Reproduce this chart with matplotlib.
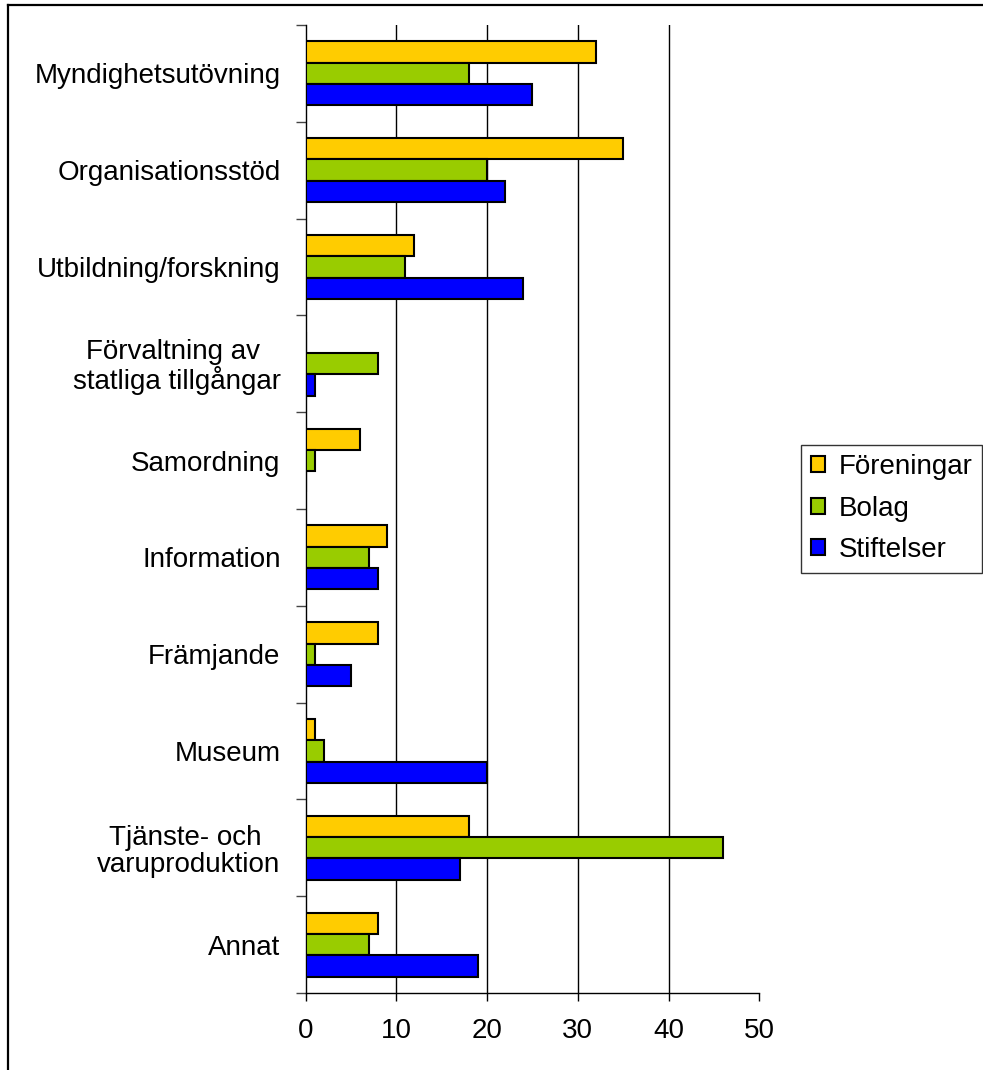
import numpy as np
import matplotlib
matplotlib.use("Agg")
import matplotlib.pyplot as plt
from matplotlib.lines import Line2D

plt.rcParams['font.family'] = ['Liberation Sans', 'DejaVu Sans']

# Categories (top to bottom) and values per series
categories = [
    "Myndighetsutövning",
    "Organisationsstöd",
    "Utbildning/forskning",
    "Förvaltning av \nstatliga tillgångar",
    "Samordning",
    "Information",
    "Främjande",
    "Museum",
    "Tjänste- och \nvaruproduktion",
    "Annat",
]
series_names = ["Föreningar", "Bolag", "Stiftelser"]
foreningar = [32, 35, 12, 0, 6, 9, 8, 1, 18, 8]
bolag = [18, 20, 11, 8, 1, 7, 1, 2, 46, 7]
stiftelser = [25, 22, 24, 1, 0, 8, 5, 20, 17, 19]
x_ticks = [0, 10, 20, 30, 40, 50]

colors = ["#FFCC00", "#99CC00", "#0000FF"]
fs = 20

fig = plt.figure(figsize=(9.83, 10.70), dpi=100)
ax = fig.add_axes([0.3108, 0.0720, 0.4616, 0.9047])

y = np.arange(len(categories))
h = 0.22
for i, (vals, name, col) in enumerate(zip([foreningar, bolag, stiftelser], series_names, colors)):
    ax.barh(y + (i - 1) * h, vals, height=h, color=col, edgecolor="black",
            linewidth=1.5, label=name, zorder=3)

ax.set_xlim(0, 50)
ax.set_ylim(len(categories) - 0.5, -0.5)

ax.set_xticks(x_ticks)
ax.set_xticklabels([str(t) for t in x_ticks], fontsize=fs)
ax.tick_params(axis="x", direction="out", length=6, width=1, pad=12)

# category boundary ticks and centered labels
ax.set_yticks(np.arange(-0.5, len(categories), 1.0))
ax.set_yticklabels([])
ax.set_yticks(y, minor=True)
ax.set_yticklabels(categories, minor=True, fontsize=fs, multialignment="center",
                   linespacing=1.05)
ax.tick_params(axis="y", which="major", direction="out", length=7, width=1, color="#444444")
ax.tick_params(axis="y", which="minor", length=0, pad=18)

for gx in x_ticks[1:-1]:
    ax.axvline(gx, color="black", linewidth=1, zorder=1)

for s in ["top", "right"]:
    ax.spines[s].set_visible(False)
for s in ["left", "bottom"]:
    ax.spines[s].set_linewidth(1)

leg = ax.legend(loc="center left", bbox_to_anchor=(801 / 983, 1 - 508.5 / 1070),
                bbox_transform=fig.transFigure, fontsize=fs, frameon=True,
                fancybox=False, edgecolor="black", handlelength=0.5,
                handleheight=0.5, handletextpad=0.5, labelspacing=0.55,
                borderpad=0.35, borderaxespad=0)
leg.get_frame().set_linewidth(1)

# outer border (top and left visible)
fig.add_artist(Line2D([8 / 983, 1.0], [1 - 5 / 1070, 1 - 5 / 1070],
                      transform=fig.transFigure, color="black", linewidth=1.6))
fig.add_artist(Line2D([8 / 983, 8 / 983], [0.0, 1 - 5 / 1070],
                      transform=fig.transFigure, color="black", linewidth=1.6))

fig.savefig("out.png", dpi=100, facecolor="white")
